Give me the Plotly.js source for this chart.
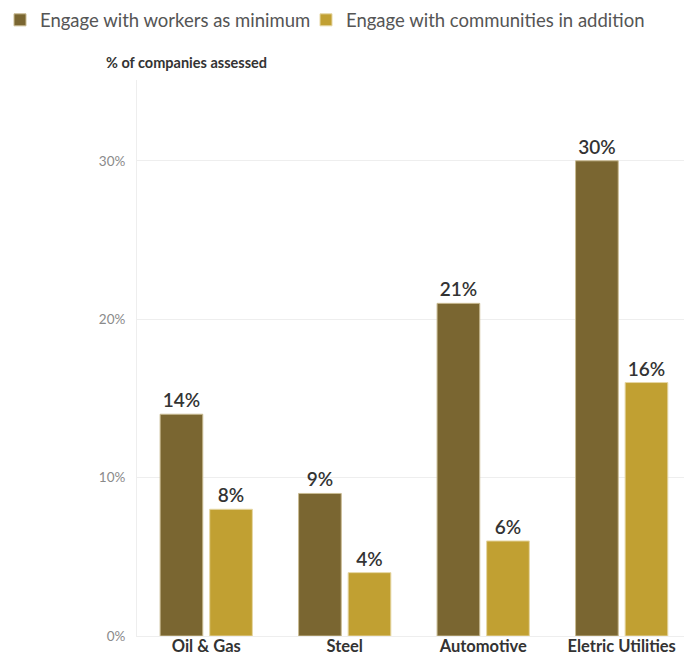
<!DOCTYPE html>
<html>
<head>
<meta charset="utf-8">
<script src="https://cdn.plot.ly/plotly-3.0.1.min.js"></script>
<style>html,body{margin:0;padding:0;background:#fff;}#chart{width:684px;height:656px;}</style>
</head>
<body>
<div id="chart"></div>
<script>
const categories = ["Oil & Gas", "Steel", "Automotive", "Eletric Utilities"];
const seriesNames = ["Engage with workers as minimum", "Engage with communities in addition"];
const workers = [14, 9, 21, 30];
const communities = [8, 4, 6, 16];
const yTickVals = [0, 10, 20, 30];
const yTickText = ["0%", "10%", "20%", "30%"];

const FONT = "Lato, 'Noto Sans', sans-serif";
const labelFont = {family: FONT, size: 19, color: "#333", weight: 600};
const legendFont = {family: FONT, size: 18.5, color: "#555"};

const traces = [
  {
    type: "bar", name: seriesNames[0], x: categories, y: workers,
    text: workers.map(v => v + "%"), textposition: "outside", cliponaxis: false,
    textfont: labelFont, legend: "legend",
    marker: {color: "#7a6631", line: {color: "#c9bb92", width: 1}},
    hoverinfo: "skip"
  },
  {
    type: "bar", name: seriesNames[1], x: categories, y: communities,
    text: communities.map(v => v + "%"), textposition: "outside", cliponaxis: false,
    textfont: labelFont, legend: "legend2",
    marker: {color: "#c1a032", line: {color: "#e6d7a4", width: 1}},
    hoverinfo: "skip"
  }
];

const layout = {
  width: 684, height: 656,
  margin: {l: 137, r: 0, t: 80, b: 20},
  paper_bgcolor: "#fff", plot_bgcolor: "#fff",
  font: {family: FONT, color: "#555"},
  barmode: "group", bargap: 0.284, bargroupgap: 0.139,
  showlegend: true,
  legend: {
    orientation: "h", xref: "container", yref: "container",
    x: 0, y: 0.998, xanchor: "left", yanchor: "top",
    bgcolor: "rgba(0,0,0,0)",
    font: legendFont, itemwidth: 30
  },
  legend2: {
    orientation: "h", xref: "container", yref: "container",
    x: 306 / 684, y: 0.998, xanchor: "left", yanchor: "top",
    bgcolor: "rgba(0,0,0,0)",
    font: legendFont, itemwidth: 30
  },
  xaxis: {
    range: [-0.5, 3.45], fixedrange: true,
    showline: true, linecolor: "#eeeeee", linewidth: 1,
    showgrid: false, zeroline: false,
    ticks: "", ticklabelstandoff: -5,
    tickfont: {family: FONT, size: 16.5, color: "#333", weight: 700}
  },
  yaxis: {
    range: [0, 35.1], fixedrange: true,
    tickvals: yTickVals, ticktext: yTickText,
    showline: true, linecolor: "#eeeeee", linewidth: 1,
    showgrid: true, gridcolor: "#eeeeee", zeroline: false,
    ticks: "", ticklabelstandoff: 8,
    tickfont: {family: FONT, size: 13.5, color: "#8a8a8a"}
  },
  annotations: [{
    text: "% of companies assessed", xref: "paper", yref: "paper",
    x: -0.06, y: 1.032, xanchor: "left", yanchor: "middle", showarrow: false,
    font: {family: FONT, size: 14.5, color: "#333", weight: 700}
  }]
};

Plotly.newPlot("chart", traces, layout, {displayModeBar: false, staticPlot: true});
</script>
</body>
</html>
